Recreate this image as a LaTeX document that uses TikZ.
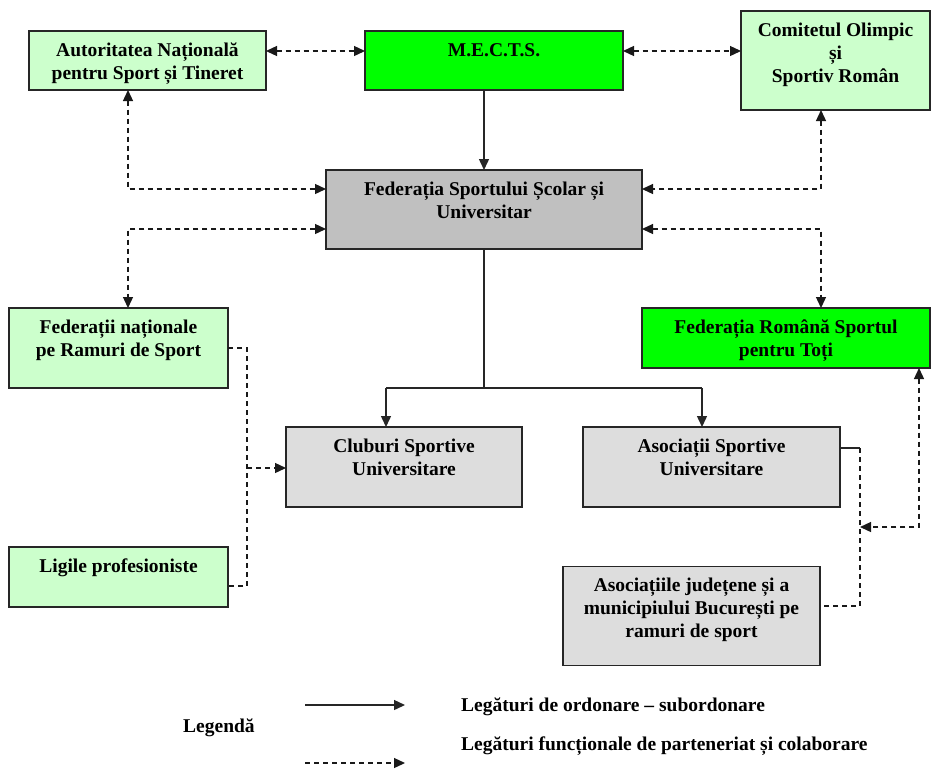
\documentclass[tikz,border=0pt]{standalone}
\usepackage{fontspec}
\setmainfont{Liberation Serif}
\usetikzlibrary{arrows.meta}
\definecolor{lgreen}{HTML}{CCFFCC}
\definecolor{bgreen}{HTML}{00FF00}
\definecolor{dgray}{HTML}{C0C0C0}
\definecolor{lgray}{HTML}{DDDDDD}
\newcommand{\boxtxt}[3]{\parbox[c][#2][t]{#1}{\centering\rule{0pt}{25pt}#3\par}}
\begin{document}
\begin{tikzpicture}[x=1pt,y=-1pt,
  font=\bfseries\fontsize{19.5}{23}\selectfont,
  box/.style={draw=black!85, line width=1.5pt, inner sep=0pt, outer sep=0pt},
  tip/.style={-{Triangle[length=11pt,width=10pt]}},
  both/.style={{Triangle[length=11pt,width=10pt]}-{Triangle[length=11pt,width=10pt]}},
  sl/.style={line width=1.4pt, draw=black!85},
  dl/.style={line width=1.3pt, draw=black!90, dash pattern=on 5pt off 4pt},
  lbl/.style={inner sep=0pt, anchor=base west}]
\useasboundingbox (0,0) rectangle (931,769);
% boxes
\node[box, fill=lgreen] (anst) at (147.5,60.5) {\boxtxt{237pt}{59pt}{Autoritatea Națională\\pentru Sport și Tineret}};
\node[box, fill=bgreen] (mects) at (494,60.5) {\boxtxt{258pt}{59pt}{M.E.C.T.S.}};
\node[box, fill=lgreen] (cosr) at (835.5,60.5) {\boxtxt{189pt}{99pt}{Comitetul Olimpic\\și\\Sportiv Român}};
\node[box, fill=dgray] (fssu) at (484,209.5) {\boxtxt{316pt}{79pt}{Federația Sportului Școlar și\\Universitar}};
\node[box, fill=lgreen] (fnrs) at (118.5,348) {\boxtxt{219pt}{80pt}{Federații naționale\\pe Ramuri de Sport}};
\node[box, fill=bgreen] (frst) at (786,338) {\boxtxt{288pt}{60pt}{Federația Română Sportul\\pentru Toți}};
\node[box, fill=lgray] (csu) at (404,467) {\boxtxt{236pt}{80pt}{Cluburi Sportive\\Universitare}};
\node[box, fill=lgray] (asu) at (711.5,467) {\boxtxt{257pt}{80pt}{Asociații Sportive\\Universitare}};
\node[box, fill=lgreen] (lig) at (118.5,577) {\boxtxt{219pt}{60pt}{Ligile profesioniste}};
\node[box, fill=lgray] (aj) at (691.5,616) {\boxtxt{257pt}{99pt}{Asociațiile județene și a\\municipiului București pe\\ramuri de sport}};
% top row partnerships
\draw[dl, both] (anst.east |- 0,51) -- (mects.west |- 0,51);
\draw[dl, both] (mects.east |- 0,51) -- (cosr.west |- 0,51);
% subordination
\draw[sl, tip] (484,0 |- mects.south) -- (fssu.north);
\draw[sl] (fssu.south) -- (484,388) coordinate (split) -- (386,388);
\draw[sl, tip] (386,388) -- (csu.north -| 386,0);
\draw[sl] (split) -- (702,388);
\draw[sl, tip] (702,388) -- (asu.north -| 702,0);
% FSSU partnerships
\draw[dl, both] (anst.south -| 128,0) -- (128,189) -- (fssu.west |- 0,189);
\draw[dl, both] (fssu.west |- 0,229) -- (128,229) -- (fnrs.north -| 128,0);
\draw[dl, both] (cosr.south -| 821,0) -- (821,189) -- (fssu.east |- 0,189);
\draw[dl, both] (fssu.east |- 0,229) -- (821,229) -- (frst.north -| 821,0);
% clubs
\draw[dl] (fnrs.east |- 0,348) -- (247,348) -- (247,586) -- (lig.east |- 0,586);
\draw[dl, tip] (247,468) -- (csu.west |- 0,468);
% associations
\draw[sl] (asu.east |- 0,448) -- (860,448);
\draw[dl] (860,448) -- (860,606) -- (aj.east |- 0,606);
\draw[dl, both] (frst.south -| 919,0) -- (919,527) -- (860,527);
% legend
\node[lbl] (legend) at (183,732) {Legendă};
\coordinate (ls1) at (305,705); \coordinate (le1) at (405,705);
\coordinate (ls2) at (305,763); \coordinate (le2) at (405,763);
\draw[sl, tip] (ls1) -- (le1);
\draw[dl, tip] (ls2) -- (le2);
\node[lbl] (leg1) at (461,711) {Legături de ordonare – subordonare};
\node[lbl] (leg2) at (461,750) {Legături funcționale de parteneriat și colaborare};
\end{tikzpicture}
\end{document}
